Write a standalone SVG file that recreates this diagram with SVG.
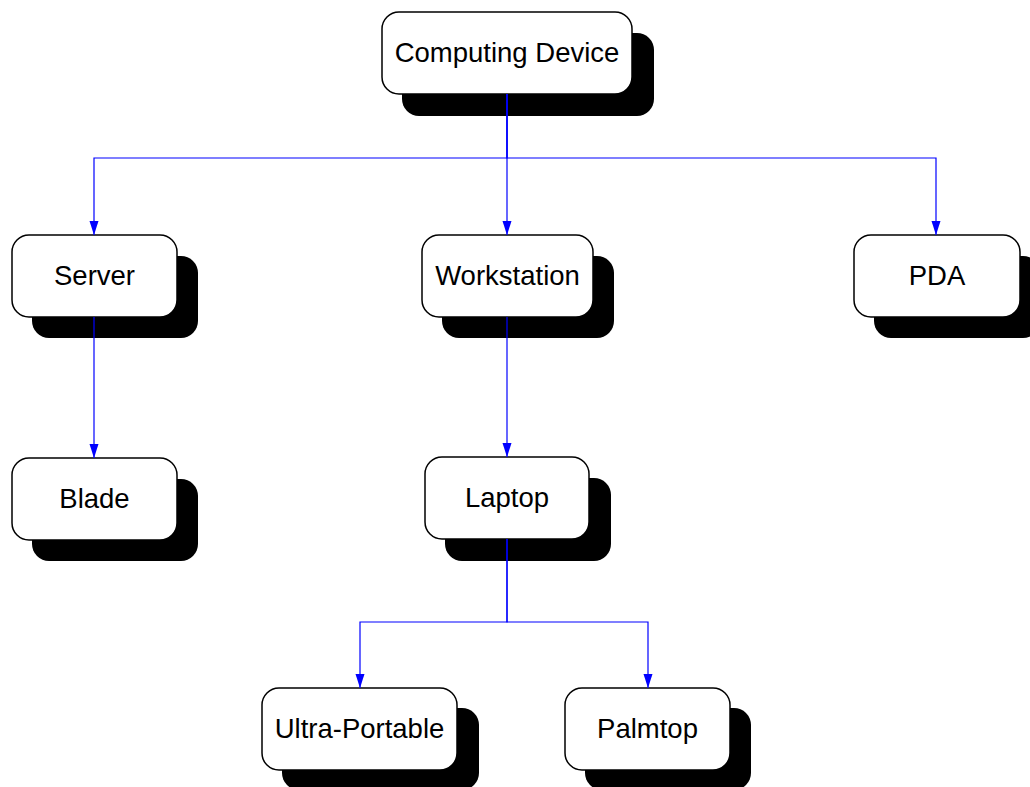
<svg xmlns="http://www.w3.org/2000/svg" width="1030" height="787" viewBox="0 0 1030 787">
<defs>
<style>
.shadow{fill:#000;}
.box{fill:#fff;stroke:#000;stroke-width:1.5;}
.lbl{font-family:"Liberation Sans",Arial,sans-serif;font-size:27.5px;fill:#000;text-anchor:middle;}
.conn{fill:none;stroke:#0000ff;stroke-width:1.2;marker-end:url(#arr);}
</style>
<marker id="arr" markerUnits="userSpaceOnUse" markerWidth="15" markerHeight="10" viewBox="0 0 15 10" refX="14" refY="5" orient="auto">
<path d="M0,0.5 L14,5 L0,9.5 Z" fill="#0000ff"/>
</marker>
</defs>
<rect width="1030" height="787" fill="#fff"/>
<g id="computing-device">
<rect class="shadow" x="402" y="33" width="252" height="83" rx="17"/>
<rect class="box" x="382" y="12" width="250" height="82" rx="17"/>
<text class="lbl" x="507" y="62">Computing Device</text>
</g>
<g id="server">
<rect class="shadow" x="32" y="256" width="166" height="82" rx="17"/>
<rect class="box" x="12" y="235" width="165" height="82" rx="17"/>
<text class="lbl" x="94.5" y="285">Server</text>
</g>
<g id="workstation">
<rect class="shadow" x="442" y="256" width="172" height="82" rx="17"/>
<rect class="box" x="422" y="235" width="171" height="82" rx="17"/>
<text class="lbl" x="507.5" y="285">Workstation</text>
</g>
<g id="pda">
<rect class="shadow" x="874" y="256" width="166" height="82" rx="17"/>
<rect class="box" x="854" y="235" width="166" height="82" rx="17"/>
<text class="lbl" x="937" y="285">PDA</text>
</g>
<g id="blade">
<rect class="shadow" x="32" y="479" width="166" height="82" rx="17"/>
<rect class="box" x="12" y="458" width="165" height="82" rx="17"/>
<text class="lbl" x="94.5" y="508">Blade</text>
</g>
<g id="laptop">
<rect class="shadow" x="445" y="478" width="166" height="83" rx="17"/>
<rect class="box" x="425" y="457" width="164" height="82" rx="17"/>
<text class="lbl" x="507" y="507">Laptop</text>
</g>
<g id="ultra-portable">
<rect class="shadow" x="282" y="708" width="197" height="82" rx="17"/>
<rect class="box" x="262" y="688" width="195" height="82" rx="17"/>
<text class="lbl" x="359.5" y="738">Ultra-Portable</text>
</g>
<g id="palmtop">
<rect class="shadow" x="585" y="708" width="166" height="82" rx="17"/>
<rect class="box" x="565" y="688" width="165" height="82" rx="17"/>
<text class="lbl" x="647.5" y="738">Palmtop</text>
</g>
<g id="connectors">
<path class="conn" d="M507,94 V158 H94 V235"/>
<path class="conn" d="M507,94 V235"/>
<path class="conn" d="M507,94 V158 H936 V235"/>
<path class="conn" d="M94,317 V458"/>
<path class="conn" d="M507,317 V457"/>
<path class="conn" d="M507,539 V622 H360 V688"/>
<path class="conn" d="M507,539 V622 H648 V688"/>
</g>
</svg>
